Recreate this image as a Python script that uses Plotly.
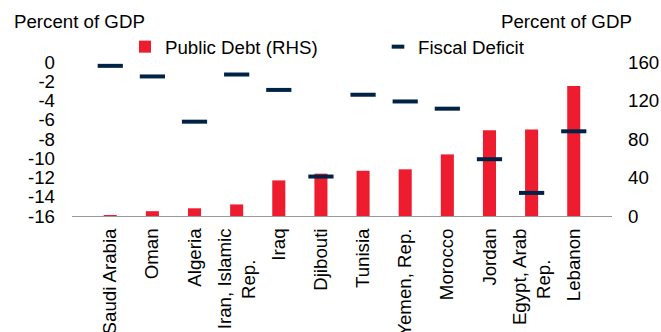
import plotly.graph_objects as go

NB = "\u00a0"
countries = ["Saudi Arabia", "Oman", "Algeria", "Iran, Islamic<br>Rep." + NB * 6, "Iraq", "Djibouti",
             "Tunisia", "Yemen, Rep.", "Morocco", "Jordan", "Egypt, Arab<br>Rep." + NB * 6, "Lebanon"]
public_debt = [1, 5, 8, 12, 37, 44, 47, 48.5, 64, 89, 90, 135]
fiscal_deficit = [-0.4, -1.5, -6.2, -1.3, -2.9, -11.9, -3.4, -4.1, -4.85, -10.1, -13.6, -7.2]
left_ticks = [0, -2, -4, -6, -8, -10, -12, -14, -16]
left_ticktext = ["0", "-2", "-4", "-6", "-8", "-10", "-12", "-14", "-16"]
right_ticks = [0, 40, 80, 120, 160]

RED = "#ED1C2E"
NAVY = "#002345"
FONT = "Liberation Sans, Arial, sans-serif"
FS = 18.7

fig = go.Figure()
fig.add_trace(go.Bar(x=countries, y=public_debt, name="Public Debt (RHS)",
                     marker=dict(color=RED, line=dict(width=0)), width=0.31,
                     yaxis="y", legend="legend"))
fig.add_trace(go.Scatter(x=countries, y=fiscal_deficit, name="Fiscal Deficit", mode="markers",
                         marker=dict(symbol="line-ew", size=18, color=NAVY,
                                     line=dict(color=NAVY, width=4)),
                         yaxis="y2", showlegend=False))
# legend entry for the fiscal deficit series (smaller dash like the reference key)
fig.add_trace(go.Scatter(x=[None], y=[None], name="Fiscal Deficit", mode="markers",
                         marker=dict(symbol="line-ew", size=9, color=NAVY,
                                     line=dict(color=NAVY, width=4)),
                         yaxis="y2", legend="legend2"))

fig.update_layout(
    width=661, height=332,
    margin=dict(l=72, r=49, t=62, b=116, autoexpand=False),
    paper_bgcolor="white", plot_bgcolor="white",
    font=dict(family=FONT, size=FS, color="#000"),
    xaxis=dict(showgrid=False, showline=True, linecolor="#999", linewidth=1,
               tickangle=-90, ticks="", automargin=False, ticklabelstandoff=4,
               tickfont=dict(size=FS)),
    yaxis=dict(side="right", range=[0, 160], tickvals=right_ticks, showgrid=False,
               zeroline=False, showline=False, ticks="", automargin=False,
               ticklabelstandoff=15),
    yaxis2=dict(overlaying="y", side="left", range=[-16, 0], tickvals=left_ticks,
                ticktext=left_ticktext, showgrid=False, zeroline=False, showline=False,
                ticks="", automargin=False, ticklabelstandoff=16),
    legend=dict(x=(125 - 72) / 540, y=(216 - 47) / 154, xanchor="left", yanchor="middle",
                orientation="h", bgcolor="rgba(0,0,0,0)", font=dict(size=FS)),
    legend2=dict(x=(378 - 72) / 540, y=(216 - 47) / 154, xanchor="left", yanchor="middle",
                 orientation="h", bgcolor="rgba(0,0,0,0)", font=dict(size=FS)),
    showlegend=True,
    annotations=[
        dict(text="Percent of GDP", xref="paper", yref="paper", x=(12 - 72) / 540,
             y=(216 - 22) / 154, xanchor="left", yanchor="middle", showarrow=False,
             font=dict(size=FS)),
        dict(text="Percent of GDP", xref="paper", yref="paper", x=(634 - 72) / 540,
             y=(216 - 22) / 154, xanchor="right", yanchor="middle", showarrow=False,
             font=dict(size=FS)),
    ],
)

fig.write_html("out.html")
